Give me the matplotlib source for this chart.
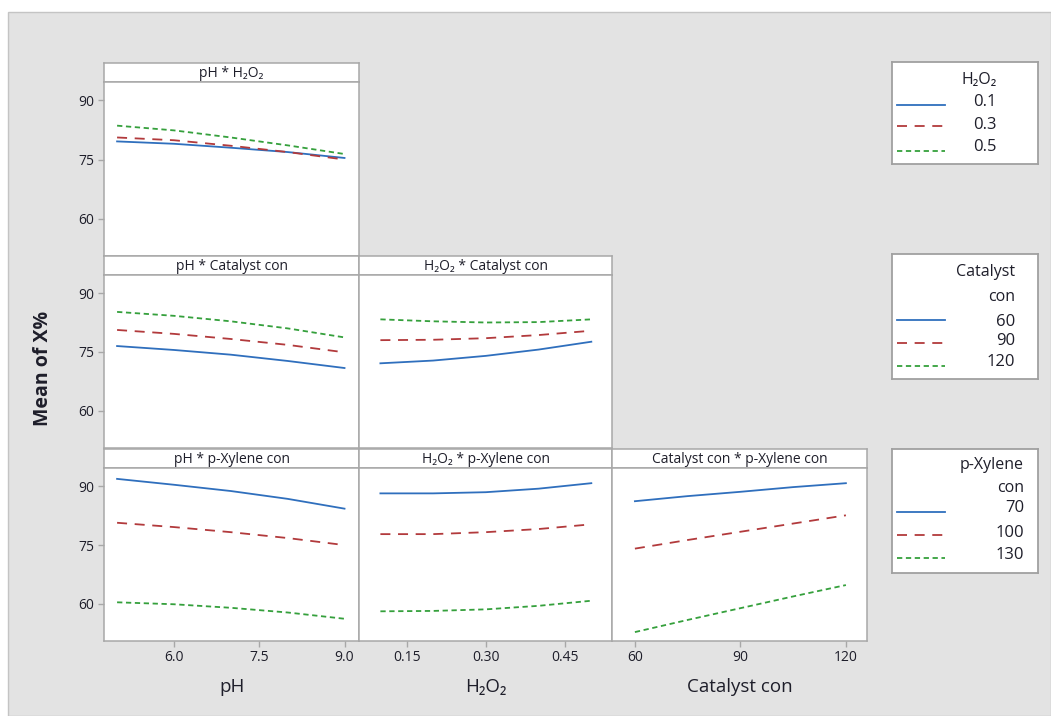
import matplotlib
matplotlib.use("Agg")
import matplotlib.pyplot as plt
from matplotlib.patches import Rectangle
from matplotlib.lines import Line2D

plt.rcParams['font.family'] = ['Open Sans', 'DejaVu Sans']
plt.rcParams['lines.scale_dashes'] = False

# factor levels
ph_levels = [5.0, 6.0, 7.0, 8.0, 9.0]
h2o2_levels = [0.1, 0.2, 0.3, 0.4, 0.5]
cat_levels = [60, 75, 90, 105, 120]

# trace levels (legend)
h2o2_trace = ["0.1", "0.3", "0.5"]
cat_trace = ["60", "90", "120"]
xyl_trace = ["70", "100", "130"]

# mean of X%
ph_by_h2o2 = [
    [79.6, 79.0, 78.0, 76.9, 75.4],
    [80.6, 79.9, 78.5, 76.9, 75.0],
    [83.6, 82.4, 80.6, 78.6, 76.4],
]
ph_by_cat = [
    [76.5, 75.5, 74.3, 72.7, 70.9],
    [80.6, 79.6, 78.3, 76.8, 74.9],
    [85.2, 84.2, 82.8, 81.0, 78.7],
]
h2o2_by_cat = [
    [72.1, 72.8, 74.0, 75.6, 77.6],
    [78.0, 78.1, 78.5, 79.3, 80.4],
    [83.3, 82.8, 82.5, 82.6, 83.3],
]
ph_by_xyl = [
    [91.9, 90.4, 88.8, 86.8, 84.3],
    [80.7, 79.6, 78.3, 76.8, 75.0],
    [60.4, 59.9, 59.0, 57.8, 56.2],
]
h2o2_by_xyl = [
    [88.2, 88.2, 88.5, 89.4, 90.8],
    [77.8, 77.8, 78.3, 79.1, 80.3],
    [58.1, 58.2, 58.6, 59.5, 60.8],
]
cat_by_xyl = [
    [86.2, 87.5, 88.6, 89.8, 90.8],
    [74.1, 76.3, 78.4, 80.5, 82.6],
    [52.8, 55.9, 58.9, 61.9, 64.8],
]

W, H = 1051, 716
BG = '#e3e3e3'
EDGE = '#a8a8a8'
TXT = '#1e1e2a'
colors = ['#2f6fbd', '#b23a3c', '#35a03c']
styles = [dict(linestyle='-'),
          dict(linestyle=(0, (7.2, 5.5))),
          dict(linestyle=(0, (3.8, 2.6)))]


def rect(x0, y0, x1, y1):
    return [x0 / W, 1 - y1 / H, (x1 - x0) / W, (y1 - y0) / H]


fig = plt.figure(figsize=(W / 100, H / 100), dpi=100)
fig.patches.append(Rectangle((8 / W, 0), 1 - 8 / W, 1 - 12 / H,
                             transform=fig.transFigure, facecolor=BG,
                             edgecolor='#c4c4c4', linewidth=1.0, zorder=-5))

col_x = [104, 359.3, 612.4, 867]
row_top = [63.3, 256, 449.3]
row_bot = [255.7, 447.7, 640.7]
strip_h = 19

x_info = [
    ("pH", ph_levels, (4.77, 9.26), [6.0, 7.5, 9.0], ["6.0", "7.5", "9.0"]),
    ("H₂O₂", h2o2_levels, (0.06, 0.54), [0.15, 0.30, 0.45], ["0.15", "0.30", "0.45"]),
    ("Catalyst con", cat_levels, (53.6, 126), [60, 90, 120], ["60", "90", "120"]),
]
trace_names = ["H₂O₂", "Catalyst con", "p-Xylene con"]
panels = {
    (0, 0): ph_by_h2o2,
    (1, 0): ph_by_cat, (1, 1): h2o2_by_cat,
    (2, 0): ph_by_xyl, (2, 1): h2o2_by_xyl, (2, 2): cat_by_xyl,
}

for (r, c), series in panels.items():
    x0, x1 = col_x[c], col_x[c + 1]
    top, bot = row_top[r], row_bot[r]
    xname, xvals, xlim, xt, xtl = x_info[c]

    # strip
    sax = fig.add_axes(rect(x0, top, x1, top + strip_h))
    sax.set_xticks([])
    sax.set_yticks([])
    for sp in sax.spines.values():
        sp.set_color(EDGE)
        sp.set_linewidth(1.1)
    sax.text(0.5, 0.45, f"{xname} * {trace_names[r]}", ha='center', va='center',
             fontsize=10, color=TXT, transform=sax.transAxes)

    ax = fig.add_axes(rect(x0, top + strip_h, x1, bot))
    for i, ys in enumerate(series):
        ax.plot(xvals, ys, color=colors[i], linewidth=1.3, **styles[i])
    ax.set_xlim(*xlim)
    ax.set_ylim(50.6, 94.6)
    for sp in ax.spines.values():
        sp.set_color(EDGE)
        sp.set_linewidth(1.1)
    ax.tick_params(length=4, width=1, color=EDGE, labelsize=10,
                   labelcolor=TXT, pad=3)
    if c == 0:
        ax.set_yticks([60, 75, 90])
        ax.set_yticklabels(["60", "75", "90"])
    else:
        ax.set_yticks([])
    if r == 2:
        ax.set_xticks(xt)
        ax.set_xticklabels(xtl)
        ax.set_xlabel(xname, fontsize=13.5, color=TXT, labelpad=9)
    else:
        ax.set_xticks([])

fig.text(43 / W, 1 - 368 / H, "Mean of X%", rotation=90, ha='center', va='center',
         fontsize=14, fontweight='bold', color=TXT)

# legends
legends = [
    ((891.7, 62.3, 1037.7, 164), 997, [("H₂O₂", 80)],
     h2o2_trace, [102.5, 125, 147], [105, 126, 151]),
    ((891.7, 254.3, 1037.7, 379.3), 1015, [("Catalyst", 271.7), ("con", 296.7)],
     cat_trace, [321.7, 340.7, 362], [320, 342.7, 366]),
    ((891.7, 449, 1037.7, 573.3), 1024, [("p-Xylene", 465), ("con", 488.3)],
     xyl_trace, [508.3, 533.3, 555], [512.3, 535, 558.3]),
]
for box, right, titles, labels, ty, ly in legends:
    lax = fig.add_axes(rect(*box))
    lax.set_xlim(box[0], box[2])
    lax.set_ylim(box[3], box[1])
    lax.set_xticks([])
    lax.set_yticks([])
    for sp in lax.spines.values():
        sp.set_color('#a0a0a0')
        sp.set_linewidth(1.3)
    for t, y in titles:
        lax.text(right, y, t, ha='right', va='center', fontsize=11.5, color=TXT)
    for i, lab in enumerate(labels):
        lax.text(right, ty[i], lab, ha='right', va='center', fontsize=12, color=TXT)
        lax.add_line(Line2D([896.7, 945], [ly[i], ly[i]], color=colors[i],
                            linewidth=1.3, **styles[i]))

fig.savefig("out.png", dpi=100)
